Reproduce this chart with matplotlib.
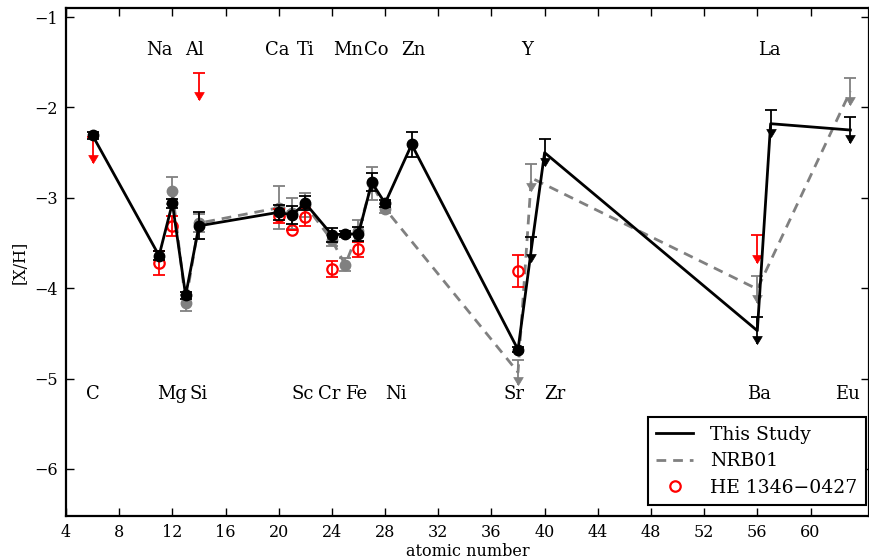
import numpy as np
import matplotlib
matplotlib.use('Agg')
import matplotlib.pyplot as plt
from matplotlib.path import Path

plt.rcParams['font.family'] = 'DejaVu Serif'
plt.rcParams['lines.scale_dashes'] = False

# element names written across the top and bottom of the panel
top_names = ['Na', 'Al', 'Ca', 'Ti', 'Mn', 'Co', 'Zn', 'Y', 'La']
bottom_names = ['C', 'Mg', 'Si', 'Sc', 'Cr', 'Fe', 'Ni', 'Sr', 'Zr', 'Ba', 'Eu']

# this study: [X/H] vs atomic number, last five are upper limits
study_z = [6, 11, 12, 13, 14, 20, 21, 22, 24, 25, 26, 27, 28, 30, 38, 39, 40, 56, 57, 63]
study_val = [-2.31, -3.64, -3.06, -4.08, -3.31, -3.16, -3.19, -3.06, -3.41, -3.40,
             -3.40, -2.83, -3.06, -2.41, -4.68, -3.57, -2.50, -4.47, -2.18, -2.25]
study_err = [0.04, 0.05, 0.05, 0.04, 0.15, 0.08, 0.10, 0.08, 0.08, 0.03,
             0.08, 0.10, 0.04, 0.14, 0.03, 0.14, 0.15, 0.15, 0.15, 0.14]
study_lim = [False] * 15 + [True] * 5

# NRB01
nrb_z = [12, 13, 14, 20, 21, 22, 24, 25, 26, 27, 28, 38, 39, 56, 63]
nrb_val = [-2.92, -4.16, -3.28, -3.11, -3.17, -3.08, -3.47, -3.74, -3.37, -2.84,
           -3.12, -4.93, -2.78, -4.01, -1.82]
nrb_err = [0.15, 0.09, 0.10, 0.24, 0.17, 0.13, 0.06, 0.07, 0.12, 0.18,
           0.05, 0.14, 0.15, 0.15, 0.15]
nrb_lim = [False] * 11 + [True] * 4

# HE 1346-0427
he_z = [6, 11, 12, 14, 20, 21, 22, 24, 26, 38, 56]
he_val = [-2.47, -3.72, -3.31, -1.77, -3.20, -3.36, -3.21, -3.79, -3.57, -3.81, -3.57]
he_err = [0.145, 0.13, 0.11, 0.15, 0.08, 0.0, 0.10, 0.09, 0.08, 0.18, 0.155]
he_lim = [True, False, False, True, False, False, False, False, False, False, True]

# where the element names sit (atomic number units)
top_x = [11.0, 13.7, 19.9, 22.0, 25.2, 27.3, 30.1, 38.7, 56.9]
bottom_x = [6.0, 12.0, 14.0, 21.8, 23.8, 25.8, 28.8, 37.7, 40.8, 56.1, 62.8]
top_y, bottom_y = -1.42, -5.23

# filled arrow head with its tip on the data point
down_arrow = Path([(-0.6, 1.0), (0.0, 0.0), (0.6, 1.0), (-0.6, 1.0)],
                  [Path.MOVETO, Path.LINETO, Path.LINETO, Path.CLOSEPOLY])


def plot_abund(ax, z, val, err, lim, col, zo, **mkw):
    z, val, err, lim = (np.asarray(a) for a in (z, val, err, lim))
    det = ~lim
    ax.errorbar(z[det], val[det], yerr=err[det], fmt='none', ecolor=col,
                elinewidth=1.3, capsize=4, capthick=1.3, zorder=zo)
    pts, = ax.plot(z[det], val[det], ls='none', marker='o', ms=7.5, zorder=zo + 0.1, **mkw)
    # upper limits: bar with a cap on top and an arrow at the bottom
    ax.vlines(z[lim], val[lim] - err[lim], val[lim] + err[lim], color=col, lw=1.3, zorder=zo)
    ax.plot(z[lim], val[lim] + err[lim], ls='none', marker='_', ms=8, mew=1.3,
            color=col, zorder=zo)
    ax.plot(z[lim], val[lim] - err[lim], ls='none', marker=down_arrow, ms=11.5,
            mfc=col, mec=col, mew=0.5, zorder=zo)
    return pts


fig = plt.figure(figsize=(8.7, 5.6), dpi=100)
ax = fig.add_axes([66 / 870, 44 / 560, 803 / 870, 508 / 560])

l_nrb, = ax.plot(nrb_z, nrb_val, color='0.5', ls='--', dashes=(7, 5), lw=2,
                 label='NRB01', zorder=2)
plot_abund(ax, nrb_z, nrb_val, nrb_err, nrb_lim, '0.5', 2, color='0.5')

he_pts = plot_abund(ax, he_z, he_val, he_err, he_lim, 'red', 3,
                    mfc='none', mec='red', mew=1.6)
he_pts.set_label('HE 1346\u22120427')

l_study, = ax.plot(study_z, study_val, 'k-', lw=2, label='This Study', zorder=4)
plot_abund(ax, study_z, study_val, study_err, study_lim, 'black', 4, color='black')

for name, x in zip(top_names, top_x):
    ax.text(x, top_y, name, ha='center', va='baseline', fontsize=13)
for name, x in zip(bottom_names, bottom_x):
    ax.text(x, bottom_y, name, ha='center', va='baseline', fontsize=13)

ax.set_xlim(4, 64.4)
ax.set_ylim(-6.52, -0.9)
ax.set_xticks(np.arange(4, 61, 4))
ax.set_yticks(np.arange(-6, 0))
ax.tick_params(direction='in', top=True, right=True, length=6, width=1,
               labelsize=11.5, pad=6)
for s in ax.spines.values():
    s.set_linewidth(1.6)
ax.set_xlabel('atomic number', fontsize=11.5, labelpad=1)
ax.set_ylabel('[X/H]', fontsize=11.5, labelpad=4)

leg = ax.legend(handles=[l_study, l_nrb, he_pts], loc='lower right',
                bbox_to_anchor=(0.9963, 0.0217), borderaxespad=0, fontsize=13.5,
                fancybox=False, framealpha=1, numpoints=1, handlelength=2,
                handletextpad=0.9, labelspacing=0.45, borderpad=0.45)
leg.get_frame().set_edgecolor('black')
leg.get_frame().set_linewidth(1.5)

fig.savefig('out.png', dpi=100)
